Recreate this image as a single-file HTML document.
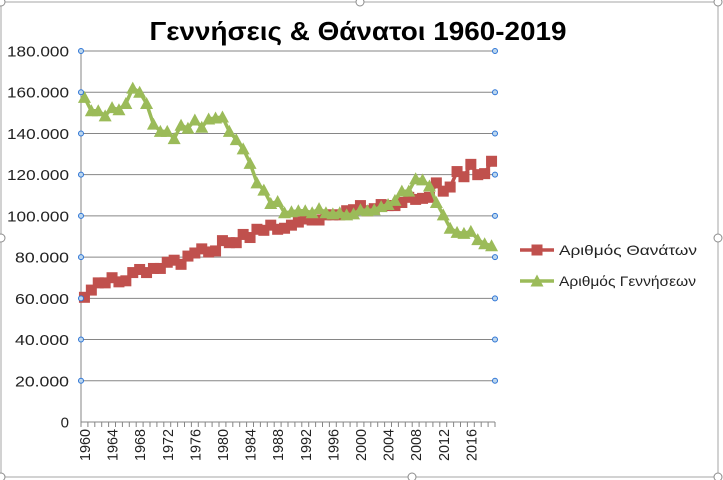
<!DOCTYPE html>
<html><head><meta charset="utf-8"><style>
html,body{margin:0;padding:0;background:#fff;}
svg{display:block;font-family:"Liberation Sans",sans-serif;}
</style></head><body>
<svg id="c" width="723" height="480" xmlns="http://www.w3.org/2000/svg"></svg>
<script>
const D=[60.5,64,67.5,67.5,70,68,68.5,72.5,74,72.5,74.5,74.5,77.5,78.5,76.5,80.5,82,84,82.5,83,88,87,87,91,89.5,93.5,93,95.5,93.5,94,95.5,97,98.5,98,98,100.5,100.5,100.5,102.5,103,105,102.5,103.5,105.5,105,105,106.5,109,108,108.5,109,116,112,114,121.5,119,125,120,120.5,126.5];
const B=[157.5,151,151,148.5,152.5,151.5,154.5,162,160,154.5,144.5,141,141,137.5,144,142.5,146.5,143,147,147.5,148,141,137,132.5,125.5,116,112.5,106,107,101.5,102,102.5,102.5,101.5,103.5,101.5,101,101.5,100.5,101,103,102.5,103,104.5,105.5,107.5,112,112,118,117.5,114.5,106.5,100.5,94,92,91.5,92.5,88.5,86.5,85.5];
const X0=81,X1=495,Y0=422,Y1=51,N=60,cw=(X1-X0)/N;
const xs=i=>X0+cw*(i+0.5), ys=v=>Y0-(v/180)*(Y0-Y1);
let s='';
s+='<rect x="1" y="2" width="717" height="475" fill="none" stroke="#a6a6a6" stroke-width="1"/>';
for(let k=0;k<=9;k++){const y=ys(k*20);
 if(k>0)s+=`<line x1="${X0}" y1="${y}" x2="${X1}" y2="${y}" stroke="#868686" stroke-width="1"/>`;
 const t=k==0?'0':(k*20)+'.000';
 s+=`<text x="69" y="${y+5.5}" font-size="15" text-anchor="end" fill="#222"${k>=5?' textLength="62" lengthAdjust="spacingAndGlyphs"':(k>0?' textLength="54" lengthAdjust="spacingAndGlyphs"':'')}>${t}</text>`;}
s+=`<line x1="${X0}" y1="${Y0}" x2="${X1}" y2="${Y0}" stroke="#868686"/>`;
s+=`<line x1="${X0}" y1="${Y1}" x2="${X0}" y2="${Y0}" stroke="#868686"/>`;
for(let i=0;i<=N;i++){const x=X0+cw*i;s+=`<line x1="${x}" y1="${Y0}" x2="${x}" y2="${Y0+5}" stroke="#868686"/>`;}
for(let i=0;i<N;i+=4){const x=xs(i)+5.5;s+=`<text transform="translate(${x},461) rotate(-90)" font-size="14.5" fill="#222" textLength="32" lengthAdjust="spacingAndGlyphs">${1960+i}</text>`;}
function line(arr,col){return `<polyline fill="none" stroke="${col}" stroke-width="3.5" stroke-linejoin="round" points="${arr.map((v,i)=>xs(i).toFixed(1)+','+ys(v).toFixed(1)).join(' ')}"/>`;}
s+=line(D,'#c0504d');
D.forEach((v,i)=>{s+=`<rect x="${xs(i)-5.5}" y="${ys(v)-5.5}" width="11" height="11" fill="#c0504d"/>`;});
s+=line(B,'#9bbb59');
B.forEach((v,i)=>{const x=xs(i),y=ys(v);s+=`<polygon points="${x-6.5},${y+5.5} ${x+6.5},${y+5.5} ${x},${y-6.5}" fill="#9bbb59"/>`;});
for(let k=1;k<=9;k++){const y=ys(k*20);
 s+=`<circle cx="${X0}" cy="${y}" r="2.5" fill="#bdd7ee" stroke="#2e75d6" stroke-width="1"/>`;
 s+=`<circle cx="${X1}" cy="${y}" r="2.5" fill="#bdd7ee" stroke="#2e75d6" stroke-width="1"/>`;}
s+='<text x="358" y="40" font-size="26" font-weight="bold" text-anchor="middle" textLength="417" lengthAdjust="spacingAndGlyphs" fill="#000">Γεννήσεις &amp; Θάνατοι 1960-2019</text>';
s+='<line x1="520" y1="250" x2="554" y2="250" stroke="#c0504d" stroke-width="3.5"/><rect x="531.5" y="244.5" width="11" height="11" fill="#c0504d"/>';
s+='<text x="559" y="255" font-size="14" fill="#222" textLength="138" lengthAdjust="spacingAndGlyphs">Αριθμός Θανάτων</text>';
s+='<line x1="520" y1="281" x2="554" y2="281" stroke="#9bbb59" stroke-width="3.5"/><polygon points="530.5,286.5 543.5,286.5 537,274.5" fill="#9bbb59"/>';
s+='<text x="559" y="286" font-size="14" fill="#222" textLength="137" lengthAdjust="spacingAndGlyphs">Αριθμός Γεννήσεων</text>';
[[1,2],[360,2],[718,2],[1,238],[718,238],[1,477],[412,477],[718,477]].forEach(p=>{s+=`<circle cx="${p[0]}" cy="${p[1]}" r="4" fill="#fff" stroke="#8c8c8c"/>`;});
document.getElementById('c').innerHTML=s;
</script>
</body></html>
